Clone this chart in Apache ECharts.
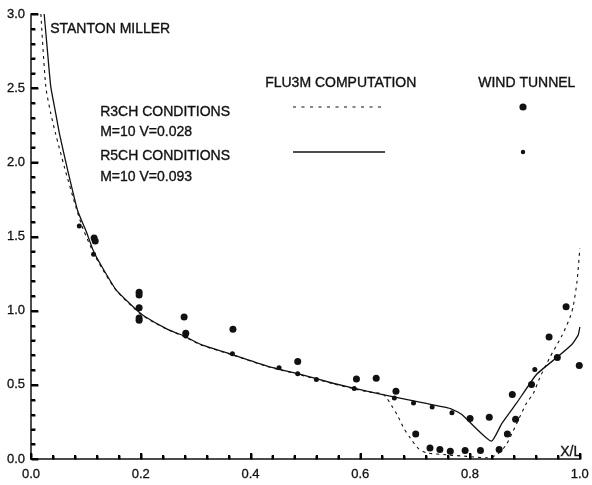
<!DOCTYPE html>
<html>
<head>
<meta charset="utf-8">
<script src="https://cdn.jsdelivr.net/npm/echarts@6/dist/echarts.min.js"></script>
<style>
html,body{margin:0;padding:0;background:#fff;}
#chart{width:592px;height:485px;}
</style>
</head>
<body>
<div id="chart"></div>
<script>
// Tick labels
const xTicks = [0.0, 0.2, 0.4, 0.6, 0.8, 1.0];
const yTicks = [0.0, 0.5, 1.0, 1.5, 2.0, 2.5, 3.0];
// Minor tick positions
const xMinorTicks = [0.04,0.08,0.12,0.16,0.24,0.28,0.32,0.36,0.44,0.48,0.52,0.56,0.64,0.68,0.72,0.76,0.84,0.88,0.92,0.96];
const yMinorTicks = [0.1,0.2,0.3,0.4,0.6,0.7,0.8,0.9,1.1,1.2,1.3,1.4,1.6,1.7,1.8,1.9,2.1,2.2,2.3,2.4,2.6,2.7,2.8,2.9];

// FLU3M computation, R3CH conditions (dashed)
const r3chCompX = [0.018,0.027,0.036,0.045,0.061,0.082,0.095,0.114,0.127,0.155,0.188,0.206,0.249,0.279,0.309,0.370,0.430,0.491,0.552,0.612,0.640,0.648,0.657,0.667,0.679,0.691,0.706,0.721,0.758,0.794,0.830,0.849,0.866,0.885,0.903,0.915,0.927,0.945,0.967,0.982,0.988,0.995,1.000];
const r3chCompY = [3.00,2.51,2.33,2.19,1.966,1.696,1.55,1.39,1.30,1.138,1.015,0.960,0.872,0.826,0.770,0.698,0.624,0.567,0.506,0.454,0.440,0.412,0.360,0.300,0.209,0.142,0.070,0.042,0.028,0.018,0.008,0.030,0.097,0.240,0.378,0.440,0.547,0.682,0.829,0.953,1.030,1.200,1.420];

// FLU3M computation, R5CH conditions (solid)
const r5chCompX = [0.024,0.030,0.036,0.044,0.052,0.067,0.085,0.100,0.114,0.127,0.155,0.188,0.206,0.249,0.279,0.309,0.370,0.430,0.491,0.552,0.612,0.661,0.715,0.764,0.785,0.839,0.858,0.885,0.921,0.959,0.985,0.997,1.000];
const r5chCompY = [3.00,2.75,2.51,2.35,2.19,1.944,1.674,1.54,1.40,1.31,1.14,1.02,0.964,0.874,0.829,0.773,0.700,0.626,0.570,0.509,0.457,0.419,0.378,0.340,0.300,0.120,0.240,0.378,0.570,0.687,0.770,0.835,0.890];

// Wind tunnel, R3CH conditions (large dots)
const r3chWindX = [0.115,0.117,0.197,0.197,0.197,0.197,0.197,0.279,0.282,0.368,0.486,0.593,0.629,0.665,0.701,0.727,0.745,0.764,0.791,0.819,0.853,0.868,0.883,0.877,0.912,0.944,0.975,0.999,0.959,0.800,0.835];
const r3chWindY = [1.49,1.47,1.125,1.105,1.02,0.95,0.935,0.957,0.847,0.874,0.658,0.540,0.545,0.457,0.169,0.074,0.064,0.052,0.057,0.057,0.064,0.169,0.268,0.435,0.503,0.822,1.027,0.631,0.685,0.273,0.282];

// Wind tunnel, R5CH conditions (small dots)
const r5chWindX = [0.088,0.114,0.282,0.367,0.452,0.486,0.520,0.589,0.662,0.697,0.731,0.767,0.918];
const r5chWindY = [1.57,1.38,0.83,0.71,0.615,0.574,0.536,0.476,0.412,0.378,0.351,0.311,0.604];

const zip = (xs, ys) => xs.map((x, i) => [x, ys[i]]);

const ink = '#111111';
const font = 'Liberation Sans, Arial, Helvetica, sans-serif';

const chart = echarts.init(document.getElementById('chart'));

function txt(x, y, s) {
  return {
    type: 'text', left: x, top: y,
    style: { text: s, fill: ink, stroke: ink, lineWidth: 0.35, font: '14px ' + font, textVerticalAlign: 'middle' }
  };
}

const baseGraphics = [
  txt(50, 22, 'STANTON MILLER'),
  txt(265, 76, 'FLU3M COMPUTATION'),
  txt(478, 76, 'WIND TUNNEL'),
  txt(100, 105, 'R3CH CONDITIONS'),
  txt(100, 125, 'M=10 V=0.028'),
  txt(100, 149, 'R5CH CONDITIONS'),
  txt(100, 170, 'M=10 V=0.093'),
  txt(560, 445, 'X/L'),
  { type: 'line', shape: { x1: 293, y1: 107, x2: 381, y2: 107 },
    style: { stroke: ink, lineWidth: 1.1, lineDash: [3, 5.5] } },
  { type: 'line', shape: { x1: 293, y1: 152, x2: 385, y2: 152 },
    style: { stroke: ink, lineWidth: 1.3 } },
  { type: 'circle', shape: { cx: 523, cy: 107, r: 3.6 }, style: { fill: ink } },
  { type: 'circle', shape: { cx: 523, cy: 152, r: 2.2 }, style: { fill: ink } }
];

const option = {
  backgroundColor: '#fff',
  animation: false,
  grid: { left: 31, right: 12, top: 14, bottom: 26, containLabel: false },
  xAxis: {
    type: 'value', min: 0, max: 1, interval: 0.2,
    axisLine: { show: true, onZero: false, lineStyle: { color: ink, width: 1.5 } },
    axisTick: { show: true, inside: true, length: 6, lineStyle: { color: '#000', width: 2 } },
    minorTick: { show: true, splitNumber: 5, length: 4, lineStyle: { color: '#000', width: 2 } },
    splitLine: { show: false },
    axisLabel: { color: ink, fontSize: 13, fontFamily: font, margin: 9,
      textBorderColor: ink, textBorderWidth: 0.3,
      formatter: v => xTicks.includes(+v.toFixed(1)) ? v.toFixed(1) : '' }
  },
  yAxis: {
    type: 'value', min: 0, max: 3, interval: 0.5,
    axisLine: { show: true, onZero: false, lineStyle: { color: ink, width: 1.5 } },
    axisTick: { show: true, inside: true, length: 7, lineStyle: { color: '#000', width: 2 } },
    minorTick: { show: true, splitNumber: 5, length: 4, lineStyle: { color: '#000', width: 2 } },
    splitLine: { show: false },
    axisLabel: { color: ink, fontSize: 13, fontFamily: font, margin: 6,
      textBorderColor: ink, textBorderWidth: 0.3,
      formatter: v => yTicks.includes(+v.toFixed(1)) ? v.toFixed(1) : '' }
  },
  series: [
    {
      name: 'R3CH FLU3M', type: 'line', data: zip(r3chCompX, r3chCompY),
      showSymbol: false, smooth: 0.25, clip: true,
      lineStyle: { color: ink, width: 1.1, type: [3, 4] }
    },
    {
      name: 'R5CH FLU3M', type: 'line', data: zip(r5chCompX, r5chCompY),
      showSymbol: false, smooth: 0.15, clip: true,
      lineStyle: { color: ink, width: 1.3 }
    },
    {
      name: 'R3CH WIND', type: 'scatter', data: zip(r3chWindX, r3chWindY),
      symbol: 'circle', symbolSize: 7, itemStyle: { color: ink, opacity: 1 }
    },
    {
      name: 'R5CH WIND', type: 'scatter', data: zip(r5chWindX, r5chWindY),
      symbol: 'circle', symbolSize: 5, itemStyle: { color: ink, opacity: 1 }
    }
  ],
  graphic: baseGraphics
};

chart.setOption(option);

// tick marks: positions come from the axes' own scales via convertToPixel
const tickGraphics = [];
function addTicks(vals, isX, len) {
  vals.forEach(v => {
    const p = chart.convertToPixel({ gridIndex: 0 }, isX ? [v, 0] : [0, v]);
    const x = Math.round(p[0]) + 0.5, y = Math.round(p[1]) + 0.5;
    const shape = isX
      ? { x1: x, y1: y, x2: x, y2: y - len }
      : { x1: x, y1: y, x2: x + len, y2: y };
    tickGraphics.push({ type: 'line', shape: shape, z: 10, style: { stroke: '#000', lineWidth: 2 } });
  });
}
addTicks(xTicks, true, 6);
addTicks(xMinorTicks, true, 4);
addTicks(yTicks, false, 7);
addTicks(yMinorTicks, false, 4);

chart.setOption({ graphic: baseGraphics.concat(tickGraphics) });
</script>
</body>
</html>
